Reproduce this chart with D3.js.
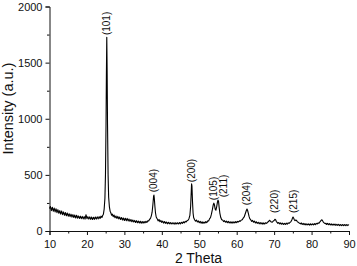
<!DOCTYPE html>
<html>
<head>
<meta charset="utf-8">
<script src="https://cdn.jsdelivr.net/npm/d3@7"></script>
<style>
  body { margin: 0; background: #fff; }
  svg { display: block; font-family: "Liberation Sans", Arial, sans-serif; }
  .axis path, .axis line { stroke: #111; }
  .axis text { fill: #111; font-size: 11px; font-family: "Liberation Sans", Arial, sans-serif; }
</style>
</head>
<body>
<div id="xrd-chart"></div>
<script>
var pattern = [
  [10,200],[10.25,218],[10.5,182],[10.75,212],[11,176],[11.25,204],[11.5,170],[11.75,198],
  [12,164],[12.25,190],[12.5,158],[12.75,182],[13,150],[13.25,178],[13.5,146],[13.75,170],
  [14,140],[14.25,164],[14.5,136],[14.75,160],[15,132],[15.25,154],[15.5,128],[15.75,150],
  [16,124],[16.25,146],[16.5,120],[16.75,142],[17,116],[17.25,140],[17.5,114],[17.75,134],
  [18,112],[18.25,132],[18.5,110],[18.75,130],[19,108],[19.25,128],[19.5,106],[19.75,145],
  [20,110],[20.25,128],[20.5,106],[20.75,126],[21,104],[21.25,124],[21.5,103],[21.75,122],
  [22,104],[22.25,124],[22.5,106],[22.75,126],[23,108],[23.25,128],[23.5,112],[23.75,132],
  [24,120],[24.2,138],[24.4,150],[24.6,195],[24.8,290],[24.95,500],[25.1,950],[25.2,1400],
  [25.3,1725],[25.4,1400],[25.5,950],[25.65,500],[25.8,300],[26,215],[26.2,175],[26.4,160],
  [26.6,140],[26.8,150],[27,128],[27.25,142],[27.5,118],[27.75,134],[28,112],[28.25,130],
  [28.5,108],[28.75,124],[29,102],[29.25,120],[29.5,98],[29.75,116],[30,94],[30.25,114],
  [30.5,92],[30.75,112],[31,90],[31.25,106],[31.5,86],[31.75,102],[32,83],[32.25,98],
  [32.5,80],[32.75,94],[33,76],[33.25,92],[33.5,74],[33.75,88],[34,72],[34.25,86],
  [34.5,70],[34.75,84],[35,70],[35.25,84],[35.5,72],[35.75,86],[36,76],[36.25,90],
  [36.5,90],[36.75,104],[37,115],[37.2,135],[37.4,165],[37.6,230],[37.8,310],[37.9,320],
  [38,290],[38.15,220],[38.3,165],[38.5,125],[38.75,110],[39,90],[39.25,102],[39.5,82],
  [39.75,94],[40,76],[40.25,88],[40.5,70],[40.75,84],[41,68],[41.25,80],[41.5,64],
  [41.75,78],[42,64],[42.25,76],[42.5,62],[42.75,74],[43,62],[43.25,74],[43.5,60],
  [43.75,74],[44,62],[44.25,74],[44.5,62],[44.75,76],[45,64],[45.25,78],[45.5,68],
  [45.75,82],[46,72],[46.25,86],[46.5,80],[46.75,92],[47,95],[47.25,110],[47.5,140],
  [47.7,220],[47.85,340],[47.95,420],[48.05,400],[48.2,260],[48.35,160],[48.5,120],[48.75,100],
  [49,88],[49.25,98],[49.5,80],[49.75,90],[50,74],[50.25,86],[50.5,70],[50.75,82],
  [51,68],[51.25,80],[51.5,70],[51.75,84],[52,74],[52.25,90],[52.5,90],[52.75,108],
  [53,120],[53.25,150],[53.5,190],[53.75,235],[53.9,248],[54.05,235],[54.25,195],[54.45,185],
  [54.65,215],[54.85,255],[55,275],[55.15,265],[55.3,215],[55.5,160],[55.75,120],[56,100],
  [56.25,98],[56.5,84],[56.75,92],[57,78],[57.25,88],[57.5,74],[57.75,86],[58,72],
  [58.25,82],[58.5,70],[58.75,82],[59,70],[59.25,82],[59.5,72],[59.75,84],[60,74],
  [60.25,86],[60.5,80],[60.75,90],[61,88],[61.25,98],[61.5,100],[61.75,115],[62,125],
  [62.2,145],[62.4,165],[62.6,185],[62.75,195],[62.9,185],[63.1,160],[63.3,130],[63.5,110],
  [63.75,100],[64,86],[64.25,94],[64.5,78],[64.75,88],[65,72],[65.25,82],[65.5,68],
  [65.75,78],[66,64],[66.25,76],[66.5,62],[66.75,74],[67,60],[67.25,72],[67.5,62],
  [67.75,74],[68,68],[68.25,78],[68.5,84],[68.75,96],[69,88],[69.25,80],[69.5,78],
  [69.75,88],[70,94],[70.2,104],[70.4,100],[70.6,84],[70.8,76],[71,68],[71.25,76],
  [71.5,62],[71.75,72],[72,60],[72.25,70],[72.5,58],[72.75,68],[73,58],[73.25,70],
  [73.5,60],[73.75,72],[74,68],[74.25,76],[74.5,84],[74.75,100],[74.9,115],[75.05,125],
  [75.2,115],[75.4,100],[75.6,92],[75.8,98],[76,94],[76.2,84],[76.5,76],[76.75,70],
  [77,64],[77.25,72],[77.5,58],[77.75,68],[78,56],[78.25,66],[78.5,54],[78.75,64],
  [79,54],[79.25,64],[79.5,52],[79.75,64],[80,54],[80.25,64],[80.5,54],[80.75,66],
  [81,56],[81.25,68],[81.5,62],[81.75,72],[82,70],[82.25,82],[82.5,92],[82.7,100],
  [82.9,94],[83.1,82],[83.35,72],[83.6,66],[83.85,68],[84,58],[84.25,68],[84.5,56],
  [84.75,66],[85,54],[85.25,64],[85.5,52],[85.75,62],[86,52],[86.25,62],[86.5,50],
  [86.75,60],[87,50],[87.25,60],[87.5,48],[87.75,58],[88,48],[88.25,58],[88.5,48],
  [88.75,58],[89,48],[89.25,58],[89.5,48],[89.75,56],[90,52]
];

// reflections: miller index, where the label sits (2theta) and its base (intensity)
var peakLabels = ["(101)", "(004)", "(200)", "(105)", "(211)", "(204)", "(220)", "(215)"];
var peakAngles = [25.3, 37.7, 48.05, 53.7, 56.35, 62.75, 70.2, 75.3];
var peakBase   = [1745, 345, 435, 275, 300, 230, 160, 160];

var xTicks = [10, 20, 30, 40, 50, 60, 70, 80, 90];
var yTicks = [0, 500, 1000, 1500, 2000];

var width = 357, height = 266;

var svg = d3.select("#xrd-chart").append("svg")
  .attr("width", width)
  .attr("height", height);

var x = d3.scaleLinear().domain([10, 90]).range([49.5, 349]);
var y = d3.scaleLinear().domain([0, 2000]).range([231, 6.5]);

// minor ticks first so the major ones draw over them
svg.append("g")
  .attr("class", "axis")
  .attr("transform", "translate(0,231)")
  .call(d3.axisBottom(x).tickValues(d3.range(15, 90, 10)).tickSize(2.5).tickFormat(""))
  .select(".domain").remove();

svg.append("g")
  .attr("class", "axis")
  .attr("transform", "translate(49.5,0)")
  .call(d3.axisLeft(y).tickValues(d3.range(250, 2000, 500)).tickSize(2.5).tickFormat(""))
  .select(".domain").remove();

svg.append("g")
  .attr("class", "axis")
  .attr("transform", "translate(0,231)")
  .call(d3.axisBottom(x).tickValues(xTicks).tickFormat(d3.format("d"))
    .tickSizeOuter(0).tickSize(4).tickPadding(5));

svg.append("g")
  .attr("class", "axis")
  .attr("transform", "translate(49.5,0)")
  .call(d3.axisLeft(y).tickValues(yTicks).tickFormat(d3.format("d"))
    .tickSizeOuter(0).tickSize(4).tickPadding(3));

var line = d3.line()
  .x(function (d) { return x(d[0]); })
  .y(function (d) { return y(d[1]); });

svg.append("path")
  .datum(pattern)
  .attr("fill", "none")
  .attr("stroke", "#000")
  .attr("stroke-width", 1.1)
  .attr("stroke-linejoin", "round")
  .attr("d", line);

svg.selectAll(".peak-label")
  .data(peakLabels)
  .enter().append("text")
  .attr("class", "peak-label")
  .attr("transform", function (d, i) {
    return "translate(" + x(peakAngles[i]) + "," + y(peakBase[i]) + ") rotate(-90)";
  })
  .attr("dy", "0.35em")
  .style("font-size", "10px")
  .style("fill", "#111")
  .text(function (d) { return d; });

svg.append("text")
  .attr("transform", "translate(13,108.5) rotate(-90)")
  .attr("text-anchor", "middle")
  .style("font-size", "14.5px")
  .style("fill", "#111")
  .text("Intensity (a.u.)");

svg.append("text")
  .attr("x", 198.5)
  .attr("y", 263)
  .attr("text-anchor", "middle")
  .style("font-size", "14px")
  .style("fill", "#111")
  .text("2 Theta");
</script>
</body>
</html>
